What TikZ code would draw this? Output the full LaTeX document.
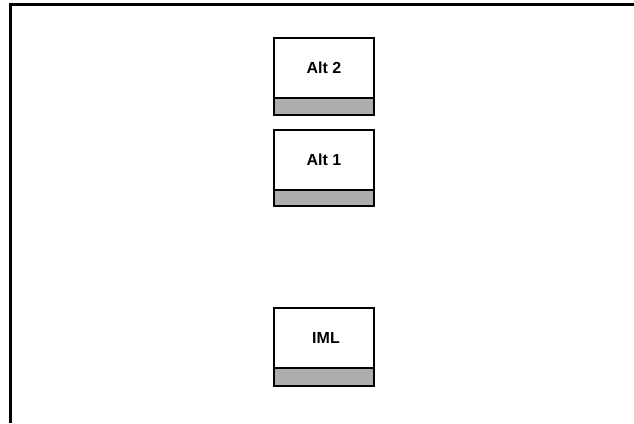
\documentclass[tikz,border=0pt]{standalone}
\usepackage{fontspec}
\setmainfont{Liberation Sans}
\begin{document}
\begin{tikzpicture}[x=1pt,y=-1pt,
  frameline/.style={line width=2.2pt,black},
  boxtop/.style={draw=black,line width=2.2pt,fill=white,minimum width=100pt,minimum height=60pt,inner sep=0pt,outer sep=0pt,anchor=north west,font=\fontsize{16}{16}\selectfont\bfseries},
  band/.style={draw=black,line width=2.2pt,fill=black!32}]
\useasboundingbox (0,0) rectangle (634,423);
\coordinate (ftl) at (10.5,4.5);
\coordinate (ftr) at (634,4.5);
\coordinate (fbl) at (10.5,423);
\draw[frameline] (ftr) -- (ftl) -- (fbl);
% Alt 2
\node[boxtop] (alt2) at (274,38) {\raisebox{-3pt}{Alt 2}};
\draw[band] (alt2.south west) rectangle ++(100,17);
% Alt 1
\node[boxtop] (alt1) at (274,130) {\raisebox{-1pt}{Alt 1}};
\draw[band] (alt1.south west) rectangle ++(100,16);
% IML
\node[boxtop] (iml) at (274,308) {\hspace{4pt}\raisebox{-2pt}{IML}};
\draw[band] (iml.south west) rectangle ++(100,18);
\end{tikzpicture}
\end{document}
